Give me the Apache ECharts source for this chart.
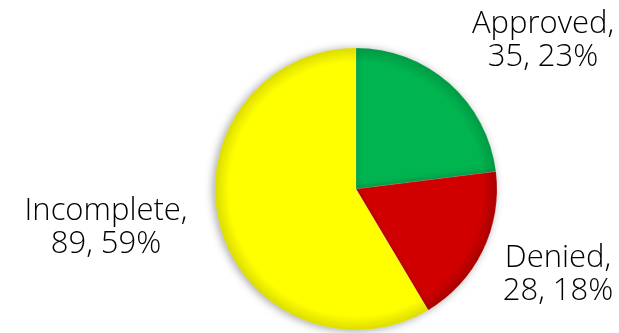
<!DOCTYPE html>
<html>
<head>
<meta charset="utf-8">
<script src="https://cdn.jsdelivr.net/npm/echarts@6/dist/echarts.min.js"></script>
<style>
html,body{margin:0;padding:0;background:#fff;}
#chart{width:619px;height:333px;}
</style>
</head>
<body>
<div id="chart"></div>
<script>
var categories = ['Approved', 'Denied', 'Incomplete'];
var values = [35, 28, 89];
var sliceColors = ['#00b450', '#d00000', '#ffff00'];
var rimColors = ['#009a44', '#a80000', '#dcdc00'];

var labelSpots = [
  {x: 543, y: 41},
  {x: 558, y: 275},
  {x: 106, y: 228}
];

var cx = 356, cy = 189, rad = 141;

function fillFor(i) {
  return {
    type: 'radial', x: cx, y: cy, r: rad, global: true,
    colorStops: [
      {offset: 0, color: sliceColors[i]},
      {offset: 0.9, color: sliceColors[i]},
      {offset: 1, color: rimColors[i]}
    ]
  };
}

var chart = echarts.init(document.getElementById('chart'), null, {renderer: 'canvas'});
chart.setOption({
  backgroundColor: '#ffffff',
  animation: false,
  series: [{
    type: 'pie',
    center: [cx, cy],
    radius: rad,
    startAngle: 90,
    clockwise: true,
    percentPrecision: 0,
    avoidLabelOverlap: false,
    data: categories.map(function (c, i) {
      return {name: c, value: values[i], itemStyle: {color: fillFor(i)}};
    }),
    itemStyle: {
      borderColor: 'rgba(255,255,255,0.25)',
      borderWidth: 0.5,
      shadowBlur: 8,
      shadowColor: 'rgba(0,0,0,0.35)',
      shadowOffsetX: -2,
      shadowOffsetY: 1
    },
    label: {
      show: true,
      position: 'outside',
      formatter: '{b},\n{c}, {d}%',
      fontFamily: 'Open Sans',
      fontWeight: 300,
      fontSize: 31,
      lineHeight: 33,
      color: '#000',
      align: 'center'
    },
    labelLine: {show: false},
    labelLayout: function (p) {
      var s = labelSpots[p.dataIndex];
      return {x: s.x, y: s.y, align: 'center', verticalAlign: 'middle'};
    }
  }]
});
</script>
</body>
</html>
